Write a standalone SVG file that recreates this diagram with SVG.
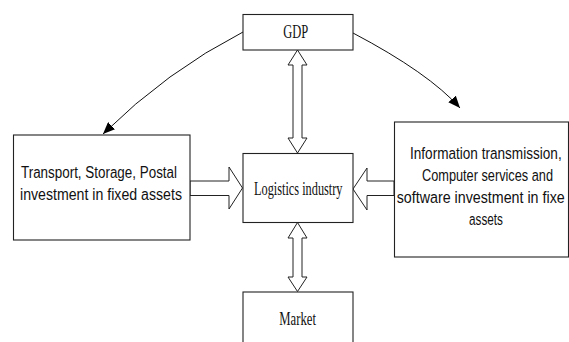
<svg xmlns="http://www.w3.org/2000/svg" width="569" height="342" viewBox="0 0 569 342">
<style>
.box{fill:#fff;stroke:#222;stroke-width:1.1}
.blk{fill:#fff;stroke:#222;stroke-width:1}
.cur{fill:none;stroke:#111;stroke-width:1}
.serif{font-family:"Liberation Serif","Times New Roman",serif;font-size:18px;fill:#111}
.sans{font-family:"Liberation Sans",Arial,sans-serif;font-size:16px;fill:#111}
.sansr{font-family:"Liberation Sans",Arial,sans-serif;font-size:17px;fill:#111}
</style>
<defs>
<marker id="ah" markerUnits="userSpaceOnUse" markerWidth="12" markerHeight="10" viewBox="0 0 12 10" refX="12" refY="5" orient="auto">
<path d="M0,0 L12,5 L0,10 Z" fill="#000"/>
</marker>
</defs>
<rect width="569" height="342" fill="#fff"/>
<g id="connectors">
<path class="cur" d="M243,32 Q167,71 103,134" marker-end="url(#ah)"/>
<path class="cur" d="M353,33 Q429,73 460,108" marker-end="url(#ah)"/>
<polygon class="blk" points="297.5,50 307,65 302,65 302,138 307,138 297.5,153 288,138 293,138 293,65 288,65"/>
<polygon class="blk" points="297.5,222.5 307,238 302,238 302,277 307,277 297.5,291.5 288,277 293,277 293,238 288,238"/>
<polygon class="blk" points="190,181 229,181 229,167 242.5,188 229,209 229,195.5 190,195.5"/>
<polygon class="blk" points="394,181 367,181 367,168 353,189 367,210 367,195.5 394,195.5"/>
</g>
<g id="gdp">
<rect class="box" x="243" y="14.5" width="110" height="35.5"/>
<text class="serif" x="283.3" y="38" textLength="25" lengthAdjust="spacingAndGlyphs">GDP</text>
</g>
<g id="logistics">
<rect class="box" x="243" y="153.5" width="110" height="69"/>
<text class="serif" x="254" y="194.5" textLength="88.5" lengthAdjust="spacingAndGlyphs">Logistics industry</text>
</g>
<g id="market">
<rect class="box" x="243" y="292" width="110" height="60"/>
<text class="serif" x="279.3" y="325" textLength="36.7" lengthAdjust="spacingAndGlyphs">Market</text>
</g>
<g id="transport">
<rect class="box" x="13.5" y="135" width="176.5" height="105"/>
<text class="sans" x="21" y="178.3" textLength="156" lengthAdjust="spacingAndGlyphs">Transport, Storage, Postal</text>
<text class="sans" x="20" y="200" textLength="162" lengthAdjust="spacingAndGlyphs">investment in fixed assets</text>
</g>
<g id="information">
<rect class="box" x="394.5" y="122" width="174" height="135"/>
<g transform="scale(0.8,1)">
<text class="sansr" x="512.5" y="158.7" textLength="189.6" lengthAdjust="spacingAndGlyphs">Information transmission,</text>
<text class="sansr" x="527.5" y="181.3" textLength="163.75" lengthAdjust="spacingAndGlyphs">Computer services and</text>
<text class="sansr" x="495.9" y="203.5" textLength="210" lengthAdjust="spacingAndGlyphs">software investment in fixe</text>
<text class="sansr" x="586.25" y="224.7" textLength="42.5" lengthAdjust="spacingAndGlyphs">assets</text>
</g>
</g>
</svg>
